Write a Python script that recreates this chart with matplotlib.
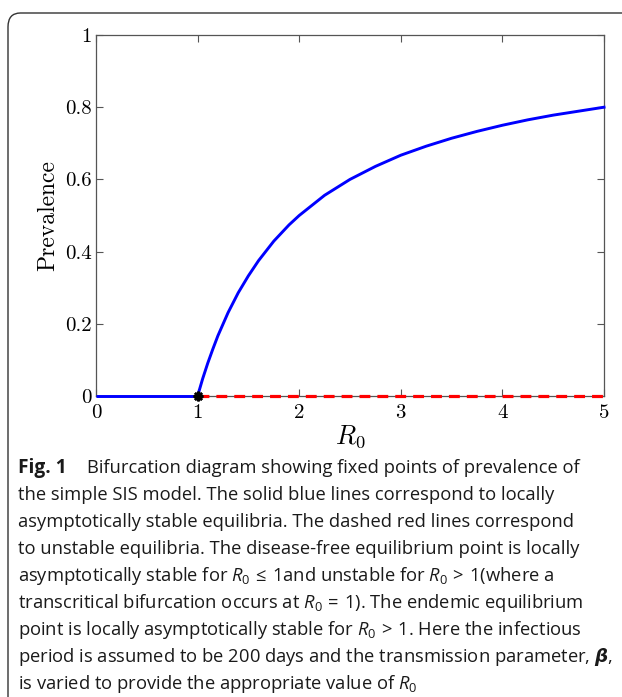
import matplotlib
matplotlib.use("Agg")
import matplotlib.pyplot as plt
from matplotlib.patches import FancyBboxPatch

# ---- data ----
r0_stable_dfe = [0.0, 1.0]
prev_stable_dfe = [0.0, 0.0]
r0_unstable_dfe = [1.0, 5.0]
prev_unstable_dfe = [0.0, 0.0]
r0_endemic = [1.0, 1.05, 1.1, 1.15, 1.2, 1.3, 1.4, 1.5, 1.6, 1.75, 1.9, 2.0, 2.25, 2.5,
              2.75, 3.0, 3.25, 3.5, 3.75, 4.0, 4.25, 4.5, 4.75, 5.0]
prev_endemic = [0.0, 0.048, 0.091, 0.130, 0.167, 0.231, 0.286, 0.333, 0.375, 0.429, 0.474,
                0.500, 0.556, 0.600, 0.636, 0.667, 0.692, 0.714, 0.733, 0.750, 0.765,
                0.778, 0.789, 0.800]
bif_r0 = [1.0]
bif_prev = [0.0]
xticks = [0, 1, 2, 3, 4, 5]
yticks = [0, 0.2, 0.4, 0.6, 0.8, 1]
ytick_labels = ["0", "0.2", "0.4", "0.6", "0.8", "1"]

caption_lines = [
    "Bifurcation diagram showing fixed points of prevalence of",
    "the simple SIS model. The solid blue lines correspond to locally",
    "asymptotically stable equilibria. The dashed red lines correspond",
    "to unstable equilibria. The disease-free equilibrium point is locally",
    r"asymptotically stable for $R_0\,\leq\,1$and unstable for $R_0\,>\,1$(where a",
    r"transcritical bifurcation occurs at $R_0\,=\,1$). The endemic equilibrium",
    r"point is locally asymptotically stable for $R_0\,>\,1$. Here the infectious",
    r"period is assumed to be 200 days and the transmission parameter, $\boldsymbol{\beta}$,",
    r"is varied to provide the appropriate value of $R_0$",
]

W, H = 622, 697
fig = plt.figure(figsize=(W / 100, H / 100), dpi=100)

# outer rounded frame
box = FancyBboxPatch((8 / W, -0.1), 1.2, (H - 13) / H + 0.1,
                     boxstyle="round,pad=0,rounding_size=0.02",
                     transform=fig.transFigure, facecolor="none",
                     edgecolor="#333333", linewidth=1.0)
fig.patches.append(box)

ax = fig.add_axes([96 / W, 1 - 396 / H, (604 - 96) / W, (396 - 35) / H])
ax.plot(r0_stable_dfe, prev_stable_dfe, color="#0000ff", lw=2.1, solid_capstyle="butt",
        zorder=3, clip_on=False)
ax.plot(r0_unstable_dfe, prev_unstable_dfe, color="#ff0000", lw=2.3, dashes=(3.4, 2.2),
        zorder=3, clip_on=False)
ax.plot(r0_endemic, prev_endemic, color="#0000ff", lw=2.1, zorder=3, clip_on=False)
ax.plot(bif_r0, bif_prev, linestyle="none", marker=(8, 2, 0), color="black",
        markersize=7, mew=1.8, zorder=4, clip_on=False)

ax.set_xlim(0, 5)
ax.set_ylim(0, 1)
ax.set_xticks(xticks)
ax.set_yticks(yticks)
ax.set_yticklabels(ytick_labels)
for sp in ax.spines.values():
    sp.set_color("#555555")
    sp.set_linewidth(0.9)
ax.tick_params(direction="in", length=5, width=0.8, color="#555555",
               top=True, right=True, labelsize=15)
ax.tick_params(axis="x", pad=6)
ax.tick_params(axis="y", pad=3)
for lab in ax.get_xticklabels() + ax.get_yticklabels():
    lab.set_family("cmr10")
ax.set_xlabel(r"$R_0$", fontsize=19, math_fontfamily="cm", labelpad=1)
ax.set_ylabel("Prevalence", fontsize=17, family="cmr10", labelpad=4)

# caption
plt.rcParams["mathtext.fontset"] = "custom"
plt.rcParams["mathtext.rm"] = "Open Sans"
plt.rcParams["mathtext.it"] = "Open Sans:italic"
plt.rcParams["mathtext.bf"] = "Open Sans:bold:italic"

x0 = 18 / W
base0 = 473
step = 27
fs = 13.2
fig.text(x0, 1 - base0 / H, "Fig. 1", fontsize=fs + 0.6, fontweight="bold",
         family="Open Sans", va="baseline", ha="left", color="#1a1a1a")
for i, line in enumerate(caption_lines):
    xx = 87 / W if i == 0 else x0
    fig.text(xx, 1 - (base0 + i * step) / H, line, fontsize=fs, family="Open Sans",
             va="baseline", ha="left", color="#1a1a1a", math_fontfamily="custom")

fig.savefig("out.png", dpi=100)
